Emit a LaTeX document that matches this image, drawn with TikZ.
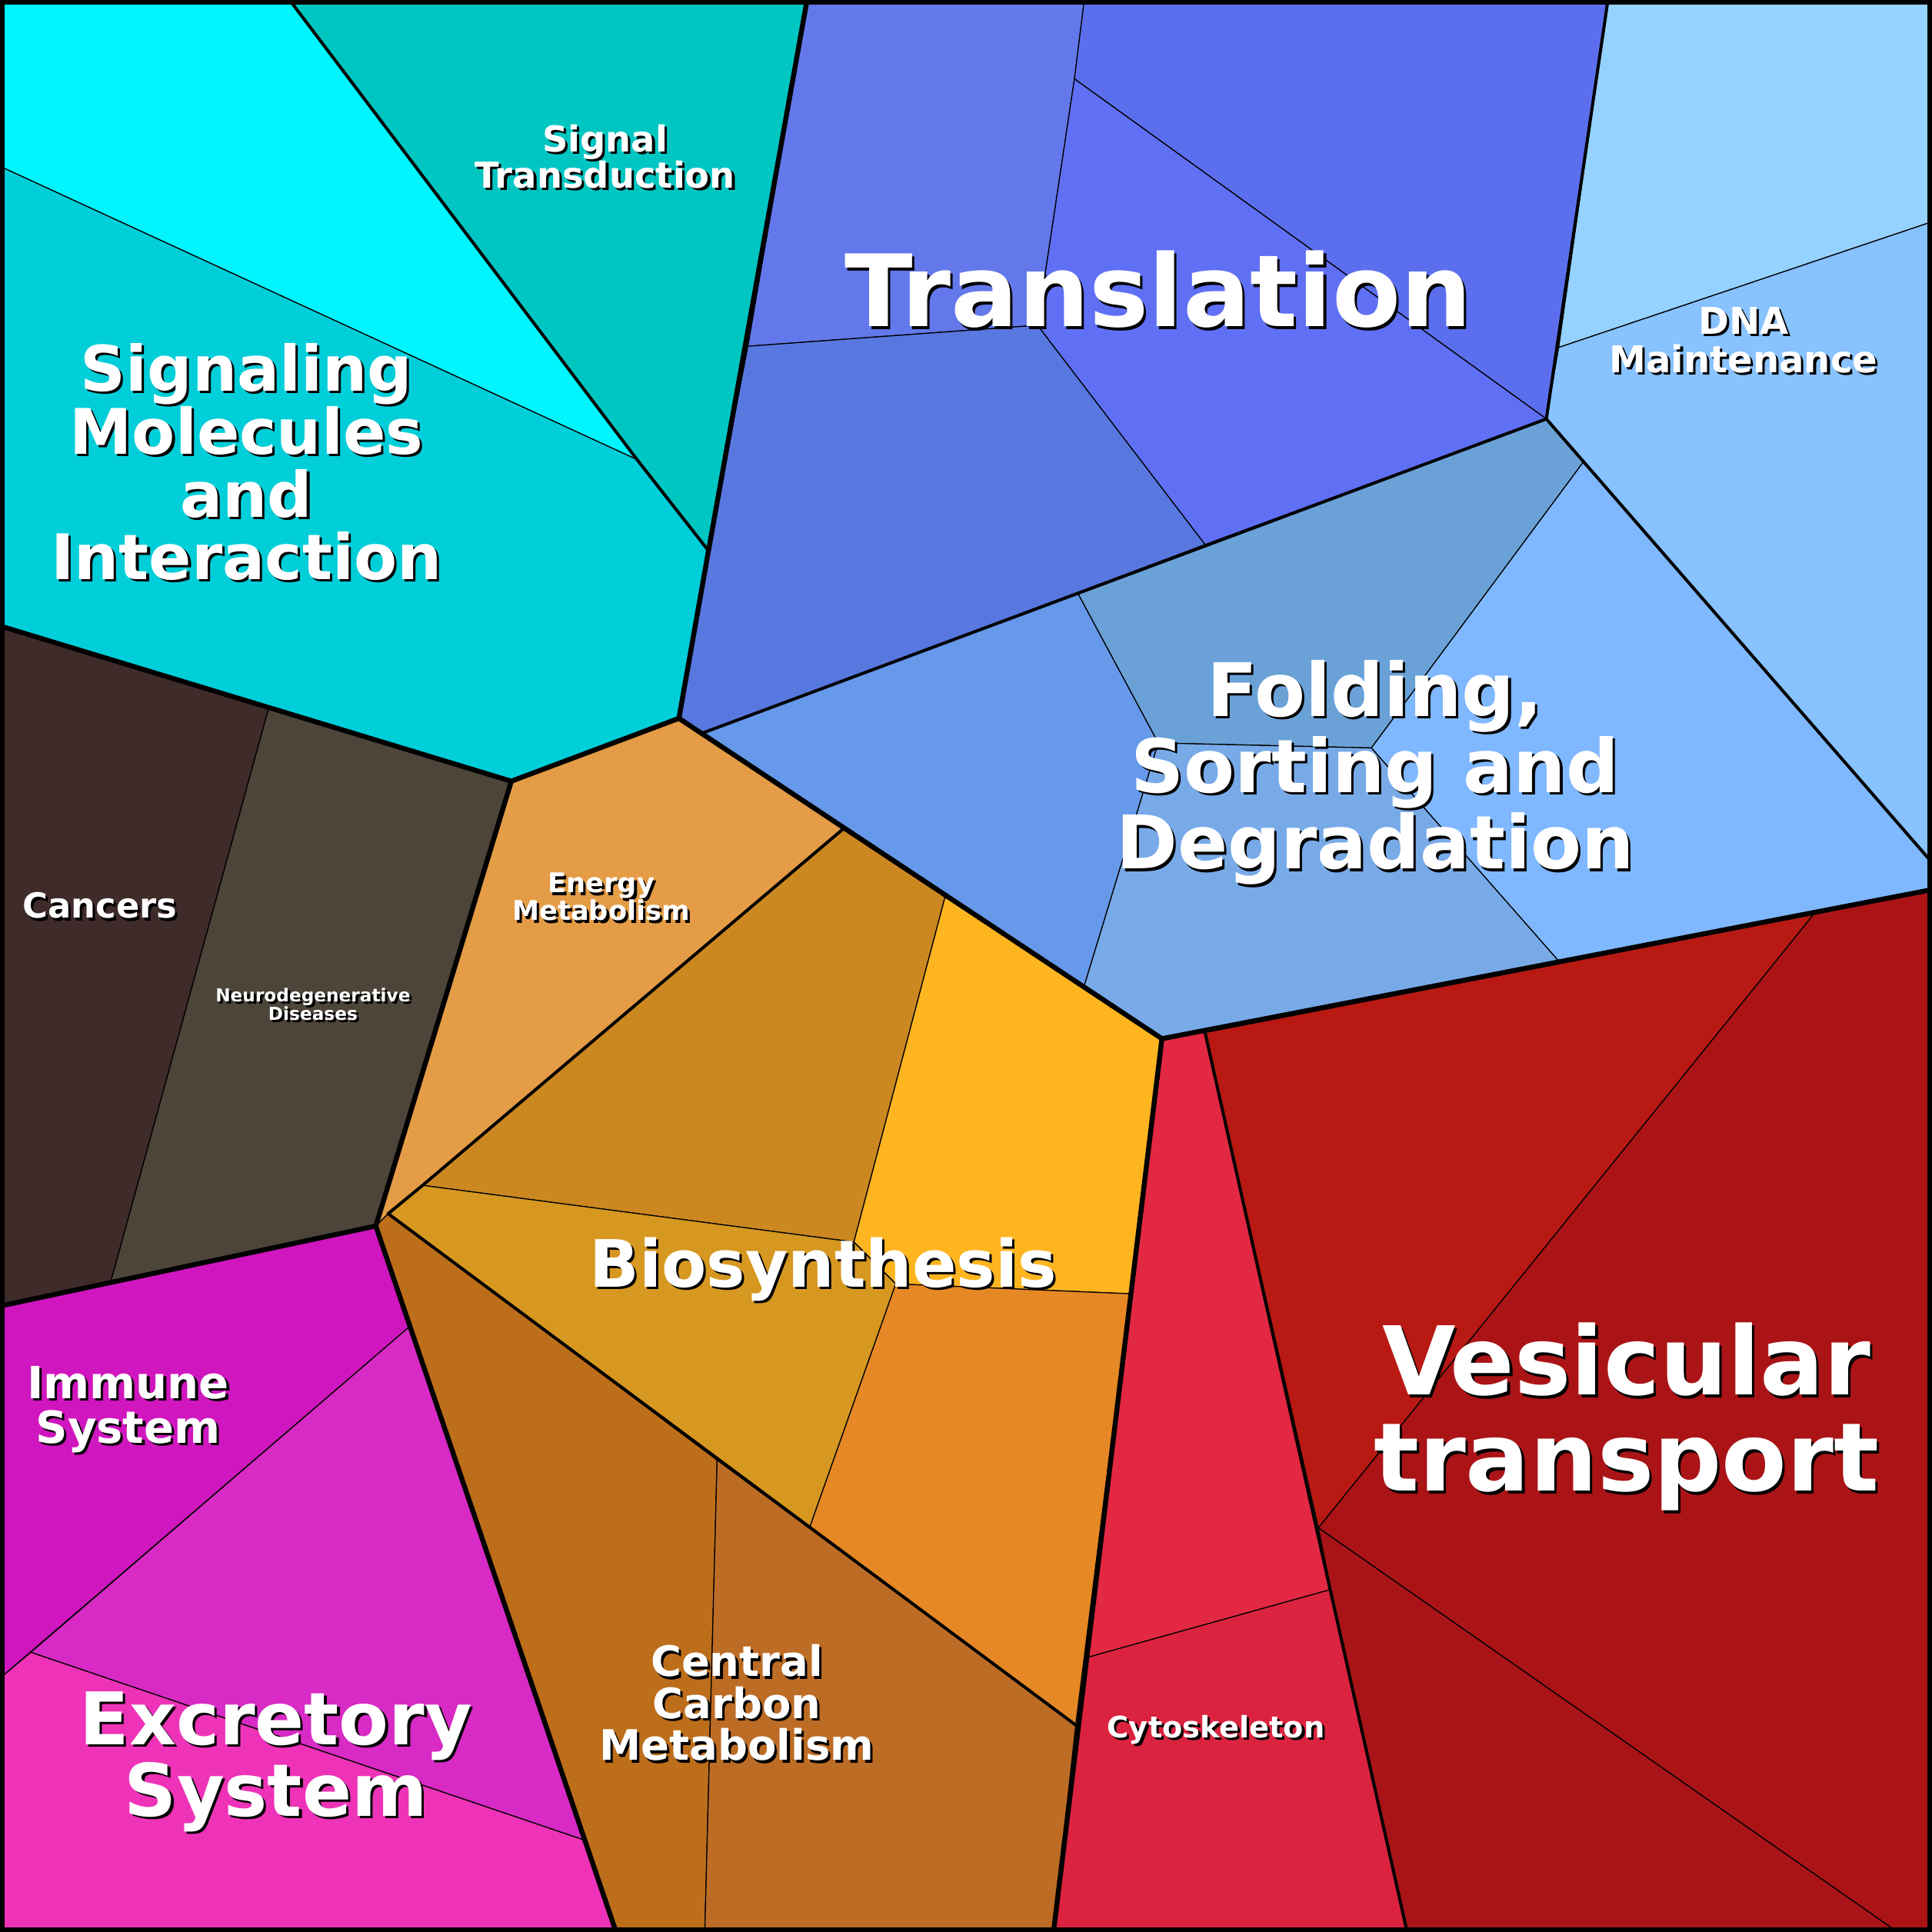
\documentclass[tikz,border=0pt]{standalone}
\usepackage{fontspec}
\setmainfont{DejaVu Sans}
\usetikzlibrary{calc}
\begin{document}
\begin{tikzpicture}[x=1pt,y=-1pt,
 cell/.style={draw=black,line width=0.8pt,line join=round},
 thick1/.style={draw=black,line width=2.5pt,line join=round,line cap=round},
 thick2/.style={draw=black,line width=4pt,line join=round,line cap=round},
 lb/.style={align=center,font=\bfseries,text=white,inner sep=0pt},
 sh/.style={align=center,font=\bfseries,text=black,inner sep=0pt}]
\newcommand{\lbl}[5]{%
 \node[sh,font=\fontsize{#3}{#4}\bfseries] (#1s) at ($#2+(2,2)$) {#5};
 \node[lb,font=\fontsize{#3}{#4}\bfseries] (#1) at #2 {#5};}
\useasboundingbox (0,0) rectangle (1568,1568);
% cyan
\fill[cell,fill={rgb,255:red,0;green,245;blue,255}] (0,0)--(235,0)--(517,373)--(0,135)--cycle;
\fill[cell,fill={rgb,255:red,0;green,198;blue,194}] (235,0)--(655,0)--(575,447)--(517,373)--cycle;
\fill[cell,fill={rgb,255:red,0;green,206;blue,217}] (0,135)--(517,373)--(575,447)--(551,583)--(415,634)--(0,508)--cycle;
% translation
\fill[cell,fill={rgb,255:red,99;green,120;blue,234}] (655,0)--(880,0)--(872,64)--(842,264)--(607,281)--cycle;
\fill[cell,fill={rgb,255:red,91;green,111;blue,238}] (880,0)--(1305,0)--(1255,340)--(872,64)--cycle;
\fill[cell,fill={rgb,255:red,96;green,112;blue,245}] (872,64)--(1255,340)--(978,442)--(842,264)--cycle;
\fill[cell,fill={rgb,255:red,88;green,120;blue,224}] (607,281)--(842,264)--(978,442)--(570,595)--(551,583)--(575,447)--cycle;
% DNA
\fill[cell,fill={rgb,255:red,150;green,210;blue,255}] (1305,0)--(1568,0)--(1568,180)--(1265,282)--cycle;
\fill[cell,fill={rgb,255:red,136;green,194;blue,255}] (1265,282)--(1568,180)--(1568,700)--(1255,340)--cycle;
% folding
\fill[cell,fill={rgb,255:red,106;green,162;blue,216}] (978,442)--(1255,340)--(1285,375)--(1113,607)--(940,603)--(875,482)--cycle;
\fill[cell,fill={rgb,255:red,102;green,153;blue,234}] (570,595)--(875,482)--(940,603)--(880,800)--cycle;
\fill[cell,fill={rgb,255:red,128;green,184;blue,255}] (1255,340)--(1568,700)--(1568,722)--(1265,780)--(1113,607)--(1285,375)--cycle;
\fill[cell,fill={rgb,255:red,120;green,170;blue,232}] (940,603)--(1113,607)--(1265,780)--(943,843)--(880,800)--cycle;
% red
\fill[cell,fill={rgb,255:red,227;green,40;blue,67}] (943,843)--(978,838)--(1080,1290)--(883,1345)--cycle;
\fill[cell,fill={rgb,255:red,219;green,35;blue,64}] (883,1345)--(1080,1290)--(1142,1568)--(855,1568)--cycle;
\fill[cell,fill={rgb,255:red,184;green,25;blue,19}] (978,838)--(1472,742)--(1070,1240)--cycle;
\fill[cell,fill={rgb,255:red,171;green,20;blue,22}] (1472,742)--(1568,722)--(1568,1568)--(1540,1568)--(1070,1240)--cycle;
\fill[cell,fill={rgb,255:red,168;green,20;blue,24}] (1070,1240)--(1540,1568)--(1142,1568)--(1080,1290)--cycle;
% diseases
\fill[cell,fill={rgb,255:red,62;green,43;blue,42}] (0,508)--(218,575)--(90,1040)--(0,1060)--cycle;
\fill[cell,fill={rgb,255:red,77;green,69;blue,57}] (218,575)--(415,634)--(305,995)--(90,1040)--cycle;
% immune/excretory
\fill[cell,fill={rgb,255:red,208;green,22;blue,190}] (0,1060)--(305,995)--(332,1077)--(0,1362)--cycle;
\fill[cell,fill={rgb,255:red,216;green,42;blue,196}] (25,1341)--(332,1077)--(476,1494)--cycle;
\fill[cell,fill={rgb,255:red,238;green,51;blue,184}] (0,1362)--(25,1341)--(476,1494)--(500,1568)--(0,1568)--cycle;
% energy/biosynthesis
\fill[cell,fill={rgb,255:red,228;green,156;blue,70}] (415,634)--(551,583)--(684,673)--(343,962)--(315,985)--(305,995)--cycle;
\fill[cell,fill={rgb,255:red,204;green,136;blue,32}] (684,673)--(767,728)--(693,1008)--(343,962)--cycle;
\fill[cell,fill={rgb,255:red,255;green,181;blue,32}] (767,728)--(943,843)--(917,1050)--(727,1042)--(693,1008)--cycle;
\fill[cell,fill={rgb,255:red,214;green,152;blue,32}] (343,962)--(693,1008)--(727,1042)--(657,1240)--(315,985)--cycle;
\fill[cell,fill={rgb,255:red,229;green,136;blue,37}] (727,1042)--(917,1050)--(873,1400)--(657,1240)--cycle;
% central carbon
\fill[cell,fill={rgb,255:red,189;green,110;blue,26}] (305,995)--(315,985)--(582,1185)--(572,1568)--(500,1568)--cycle;
\fill[cell,fill={rgb,255:red,189;green,108;blue,37}] (582,1185)--(873,1400)--(855,1568)--(572,1568)--cycle;
% thick boundaries
\draw[thick1] (235,0)--(517,373)--(575,447);
\draw[thick1] (1305,0)--(1255,340)--(1568,700);
\draw[thick1] (1255,340)--(570,595);
\draw[thick1] (978,838)--(1142,1568);
\draw[thick1] (684,673)--(343,962)--(315,985)--(873,1400);
\draw[thick2] (655,0)--(575,447)--(551,583)--(415,634)--(0,508);
\draw[thick2] (551,583)--(943,843)--(855,1568);
\draw[thick2] (943,843)--(1568,722);
\draw[thick2] (415,634)--(305,995)--(500,1568);
\draw[thick2] (0,1060)--(305,995);
\draw[black,line width=8pt] (0,0) rectangle (1568,1568);
% labels
\lbl{t1}{(940,235)}{81}{84}{Translation}
\lbl{t2}{(1320,1150)}{77}{78}{Vesicular\\transport}
\lbl{t3}{(200,375)}{51}{51}{Signaling\\Molecules\\and\\Interaction}
\lbl{t4}{(1116,627)}{60}{62}{Folding,\\Sorting and\\Degradation}
\lbl{t5}{(224,1430)}{59}{58}{Excretory\\System}
\lbl{t6}{(668,1030)}{53}{50}{Biosynthesis}
\lbl{t7}{(598,1382)}{34}{34}{Central\\Carbon\\Metabolism}
\lbl{t8}{(104,1144)}{36}{36}{Immune\\System}
\lbl{t9}{(491,127)}{29}{29}{Signal\\Transduction}
\lbl{t10}{(1415,276)}{30}{31}{DNA\\Maintenance}
\lbl{t11}{(81,735)}{28}{28}{Cancers}
\lbl{t12}{(488,728)}{22}{21}{Energy\\Metabolism}
\lbl{t13}{(987,1404)}{24}{24}{Cytoskeleton}
\lbl{t14}{(254,815)}{14.5}{15}{Neurodegenerative\\Diseases}
\end{tikzpicture}
\end{document}
